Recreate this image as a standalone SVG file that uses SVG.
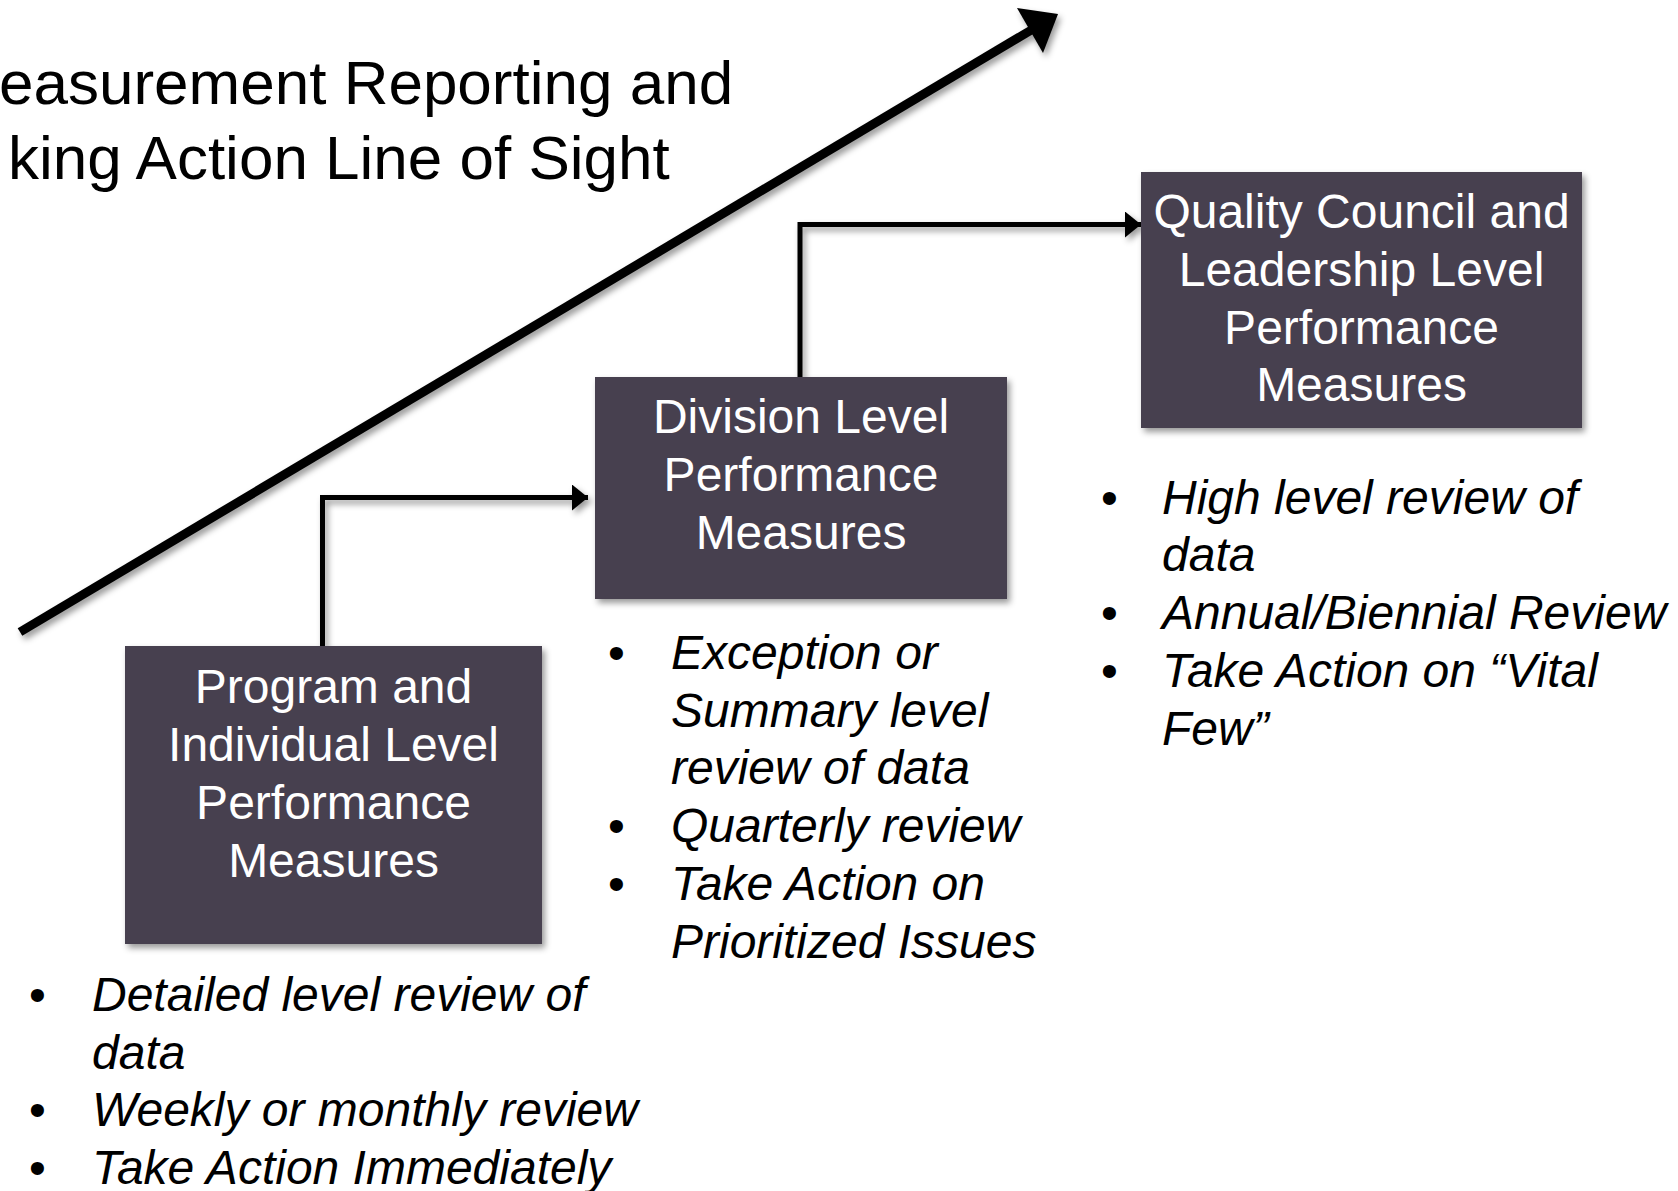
<svg xmlns="http://www.w3.org/2000/svg" width="1678" height="1191" viewBox="0 0 1678 1191">
<style>
.box{fill:#47404f;filter:url(#sh)}
.bt{fill:#ffffff;font-family:"Liberation Sans",Arial,sans-serif;font-size:48px;text-anchor:middle}
.li{fill:#000;font-family:"Liberation Sans",Arial,sans-serif;font-size:48px;font-style:italic}
.bu{fill:#000;font-family:"Liberation Sans",Arial,sans-serif;font-size:48px}
.title{fill:#000;font-family:"Liberation Sans",Arial,sans-serif;font-size:62px}
.conn{fill:none;stroke:#000;stroke-width:5}
</style>
<defs>
<filter id="sh" x="-20%" y="-20%" width="140%" height="140%">
<feGaussianBlur in="SourceAlpha" stdDeviation="3"/>
<feOffset dx="3" dy="4" result="b"/>
<feFlood flood-color="#000" flood-opacity="0.4"/>
<feComposite in2="b" operator="in"/>
<feMerge><feMergeNode/><feMergeNode in="SourceGraphic"/></feMerge>
</filter>
<marker id="ah" markerUnits="userSpaceOnUse" markerWidth="18" markerHeight="28" refX="16" refY="13" orient="auto">
<path d="M0,0 L16,13 L0,26 Z" fill="#000"/>
</marker>
</defs>
<g id="title">
<text class="title" x="-1" y="104">easurement Reporting and</text>
<text class="title" x="8" y="179">king Action Line of Sight</text>
</g>
<g id="big-arrow" filter="url(#sh)">
<line x1="20" y1="632" x2="1033" y2="29" stroke="#000" stroke-width="9"/>
<polygon points="1017,8 1058,14 1043,53" fill="#000"/>
</g>
<g id="connectors" filter="url(#sh)">
<path class="conn" d="M322.5,646 V497.5 H588" marker-end="url(#ah)"/>
<path class="conn" d="M800,377 V224.5 H1141" marker-end="url(#ah)"/>
</g>
<g id="node-program">
<rect class="box" x="125" y="646" width="417" height="298"/>
<text class="bt" x="333.5" y="703">Program and</text>
<text class="bt" x="333.5" y="761">Individual Level</text>
<text class="bt" x="333.5" y="819">Performance</text>
<text class="bt" x="333.5" y="877">Measures</text>
</g>
<g id="node-division">
<rect class="box" x="595" y="377" width="412" height="222"/>
<text class="bt" x="801" y="433">Division Level</text>
<text class="bt" x="801" y="491">Performance</text>
<text class="bt" x="801" y="549">Measures</text>
</g>
<g id="node-quality">
<rect class="box" x="1141" y="172" width="441" height="256"/>
<text class="bt" x="1361.5" y="228">Quality Council and</text>
<text class="bt" x="1361.5" y="286">Leadership Level</text>
<text class="bt" x="1361.5" y="344">Performance</text>
<text class="bt" x="1361.5" y="401">Measures</text>
</g>
<g id="list-program">
<text class="bu" x="29" y="1011">•</text>
<text class="li" x="92" y="1011">Detailed level review of</text>
<text class="li" x="92" y="1069">data</text>
<text class="bu" x="29" y="1126">•</text>
<text class="li" x="92" y="1126">Weekly or monthly review</text>
<text class="bu" x="29" y="1184">•</text>
<text class="li" x="92" y="1184">Take Action Immediately</text>
</g>
<g id="list-division">
<text class="bu" x="608" y="669">•</text>
<text class="li" x="671" y="669">Exception or</text>
<text class="li" x="671" y="727">Summary level</text>
<text class="li" x="671" y="784">review of data</text>
<text class="bu" x="608" y="842">•</text>
<text class="li" x="671" y="842">Quarterly review</text>
<text class="bu" x="608" y="900">•</text>
<text class="li" x="671" y="900">Take Action on</text>
<text class="li" x="671" y="958">Prioritized Issues</text>
</g>
<g id="list-quality">
<text class="bu" x="1101" y="514">•</text>
<text class="li" x="1162" y="514">High level review of</text>
<text class="li" x="1162" y="571">data</text>
<text class="bu" x="1101" y="629">•</text>
<text class="li" x="1162" y="629">Annual/Biennial Review</text>
<text class="bu" x="1101" y="687">•</text>
<text class="li" x="1162" y="687">Take Action on “Vital</text>
<text class="li" x="1162" y="745">Few”</text>
</g>
</svg>
